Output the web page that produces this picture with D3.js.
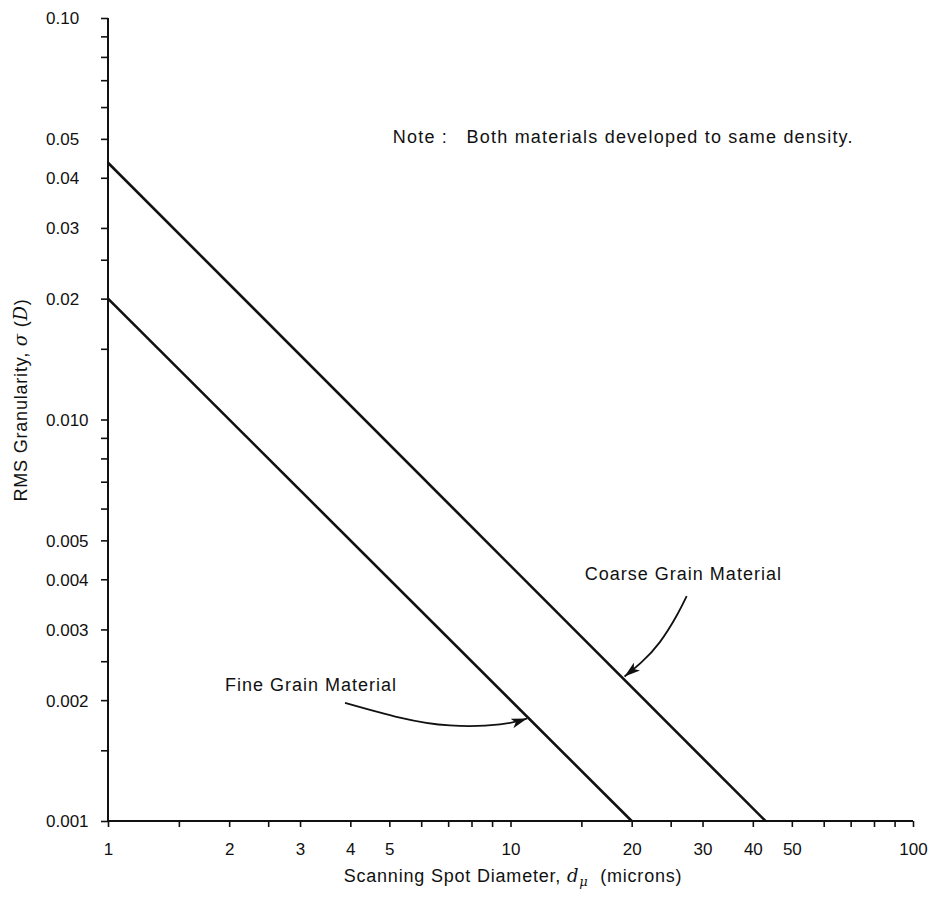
<!DOCTYPE html>
<html>
<head>
<meta charset="utf-8">
<script src="https://cdn.jsdelivr.net/npm/d3@7"></script>
<style>
  html, body { margin: 0; padding: 0; background: #fff; }
  svg { display: block; }
  text { font-family: "Liberation Sans", Arial, sans-serif; fill: #111; }
</style>
</head>
<body>
<div id="chart"></div>
<script>
// Scanning spot diameter (microns) vs RMS granularity
const coarseX = [1, 43];
const coarseY = [0.0436, 0.001];
const fineX = [1, 20];
const fineY = [0.020, 0.001];

const xTicks = [1, 1.5, 2, 2.5, 3, 4, 5, 6, 7, 8, 9, 10, 15, 20, 25, 30, 40, 50, 60, 70, 80, 90, 100];
const xTickLabels = [1, 2, 3, 4, 5, 10, 20, 30, 40, 50, 100];
const yTicks = [0.001, 0.0015, 0.002, 0.0025, 0.003, 0.004, 0.005, 0.006, 0.007, 0.008, 0.009,
                0.01, 0.015, 0.02, 0.025, 0.03, 0.04, 0.05, 0.06, 0.07, 0.08, 0.09, 0.1];
const yTickLabels = ["0.001", "0.002", "0.003", "0.004", "0.005", "0.010", "0.02", "0.03", "0.04", "0.05", "0.10"];

// annotation arrows, in data units (diameter, granularity)
const fineArrow = [[3.88, 0.00197], [5.31, 0.00181], [7.07, 0.00173], [9.42, 0.00174], [11.0, 0.00180]];
const coarseArrow = [[27.4, 0.00363], [25.8, 0.00323], [23.5, 0.00279], [21.2, 0.00249], [19.2, 0.00229]];

const width = 934, height = 897;
const margin = { top: 18, right: 21, bottom: 76, left: 108 };

const svg = d3.select("#chart").append("svg")
    .attr("width", width)
    .attr("height", height);

const defs = svg.append("defs");
defs.append("marker")
    .attr("id", "arrowhead")
    .attr("viewBox", "0 0 16 10")
    .attr("refX", 16).attr("refY", 5)
    .attr("markerWidth", 16).attr("markerHeight", 10)
    .attr("markerUnits", "userSpaceOnUse")
    .attr("orient", "auto")
    .append("path")
    .attr("d", "M0,0 L16,5 L0,10 L4,5 Z")
    .attr("fill", "#111");

const x = d3.scaleLog()
    .domain([1, 100])
    .range([margin.left, width - margin.right]);

const y = d3.scaleLog()
    .domain([0.001, 0.1])
    .range([height - margin.bottom, margin.top]);

// x axis
const xAxis = d3.axisBottom(x)
    .tickValues(xTicks)
    .tickSize(6)
    .tickPadding(16)
    .tickFormat(d => xTickLabels.includes(d) ? String(d) : "");

svg.append("g")
    .attr("transform", `translate(0,${y(0.001)})`)
    .call(xAxis)
    .call(g => g.select(".domain").attr("stroke", "#111").attr("stroke-width", 2).attr("d", `M${x(1)},0H${x(100)}`))
    .call(g => g.selectAll(".tick line").attr("stroke", "#111").attr("stroke-width", 1.6))
    .call(g => g.selectAll(".tick text")
        .attr("font-size", 17)
        .attr("font-family", "Liberation Sans, Arial, sans-serif")
        .attr("fill", "#111"));

// y axis
const yAxis = d3.axisLeft(y)
    .tickValues(yTicks)
    .tickSize(7)
    .tickFormat(d => {
        const i = yTickLabels.findIndex(s => Math.abs(+s - d) < 1e-9);
        return i >= 0 ? yTickLabels[i] : "";
    });

svg.append("g")
    .attr("transform", `translate(${x(1)},0)`)
    .call(yAxis)
    .call(g => g.select(".domain").attr("stroke", "#111").attr("stroke-width", 2).attr("d", `M0,${y(0.1)}V${y(0.001)}`))
    .call(g => g.selectAll(".tick line").attr("stroke", "#111").attr("stroke-width", 1.6))
    .call(g => g.selectAll(".tick text")
        .attr("text-anchor", "start")
        .attr("x", 46 - margin.left)
        .attr("dy", "0.35em")
        .attr("font-size", 17)
        .attr("font-family", "Liberation Sans, Arial, sans-serif")
        .attr("fill", "#111"));

// data lines
const line = d3.line().x(d => x(d[0])).y(d => y(d[1]));

svg.append("path")
    .datum(d3.zip(coarseX, coarseY))
    .attr("d", line)
    .attr("fill", "none")
    .attr("stroke", "#111")
    .attr("stroke-width", 2.6);

svg.append("path")
    .datum(d3.zip(fineX, fineY))
    .attr("d", line)
    .attr("fill", "none")
    .attr("stroke", "#111")
    .attr("stroke-width", 2.6);

// annotations
const curve = d3.line().x(d => x(d[0])).y(d => y(d[1])).curve(d3.curveNatural);

svg.append("path")
    .datum(fineArrow)
    .attr("d", curve)
    .attr("fill", "none")
    .attr("stroke", "#111")
    .attr("stroke-width", 1.8)
    .attr("marker-end", "url(#arrowhead)");

svg.append("path")
    .datum(coarseArrow)
    .attr("d", curve)
    .attr("fill", "none")
    .attr("stroke", "#111")
    .attr("stroke-width", 1.8)
    .attr("marker-end", "url(#arrowhead)");

svg.append("text")
    .attr("x", x(1.953)).attr("y", y(0.00211))
    .attr("font-size", 18)
    .attr("letter-spacing", 1.0)
    .text("Fine Grain Material");

svg.append("text")
    .attr("x", x(15.3)).attr("y", y(0.00398))
    .attr("font-size", 18)
    .attr("letter-spacing", 1.0)
    .text("Coarse Grain Material");

svg.append("text")
    .attr("x", x(5.1)).attr("y", y(0.0489))
    .attr("font-size", 18)
    .attr("letter-spacing", 1.2)
    .style("white-space", "pre")
    .text("Note :   Both materials developed to same density.");

// axis titles
const xTitle = svg.append("text")
    .attr("x", 513).attr("y", 882)
    .attr("text-anchor", "middle")
    .attr("font-size", 18)
    .attr("letter-spacing", 0.8)
    .style("white-space", "pre");
xTitle.append("tspan").text("Scanning Spot Diameter, ");
xTitle.append("tspan").attr("font-family", "DejaVu Serif, serif").attr("font-style", "italic").text("d");
xTitle.append("tspan").attr("font-family", "DejaVu Serif, serif").attr("font-style", "italic")
    .attr("font-size", 13).attr("dy", 4).text("μ");
xTitle.append("tspan").attr("dy", -4).text("  (microns)");

const yTitle = svg.append("text")
    .attr("transform", "translate(27,400) rotate(-90)")
    .attr("text-anchor", "middle")
    .attr("font-size", 18)
    .attr("letter-spacing", 0.8)
    .style("white-space", "pre");
yTitle.append("tspan").text("RMS Granularity, ");
yTitle.append("tspan").attr("font-family", "DejaVu Serif, serif").attr("font-style", "italic").text("σ");
yTitle.append("tspan").text(" (");
yTitle.append("tspan").attr("font-family", "DejaVu Serif, serif").attr("font-style", "italic").text("D");
yTitle.append("tspan").text(")");
</script>
</body>
</html>
